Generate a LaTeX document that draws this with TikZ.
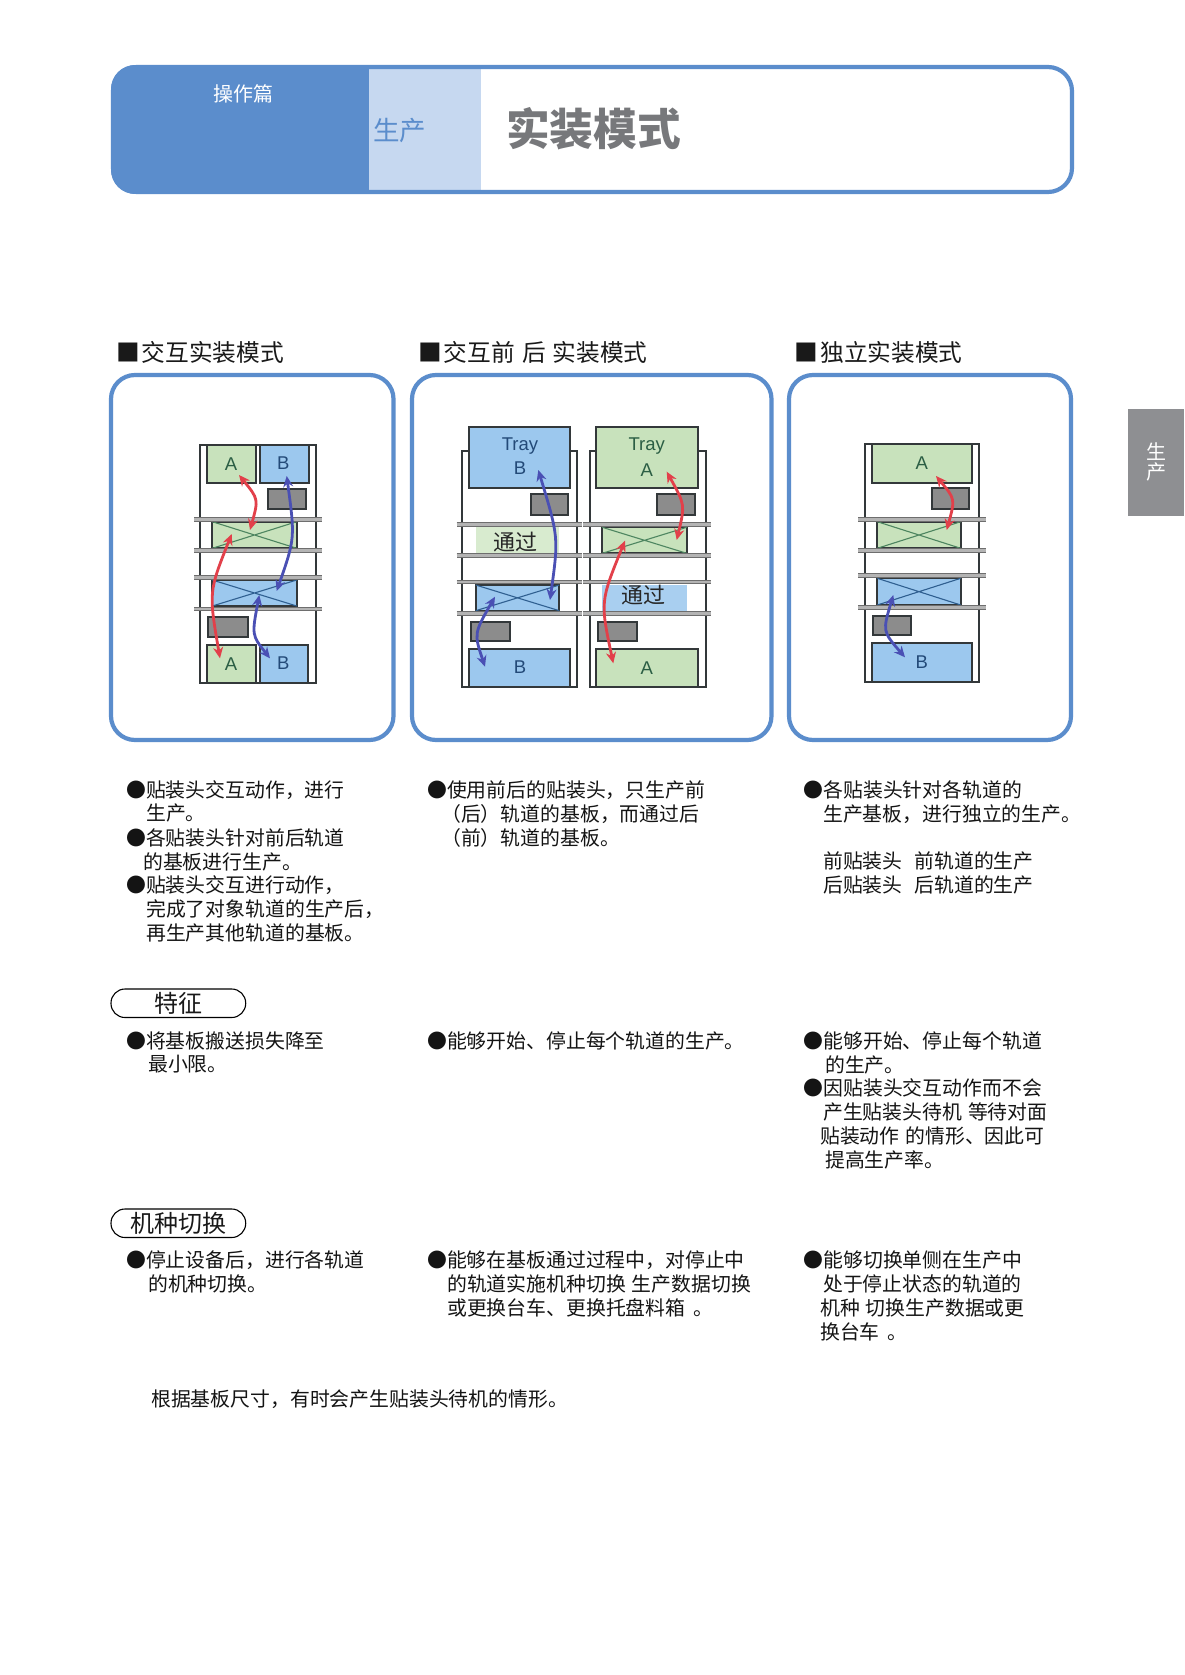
\documentclass[tikz,border=0pt]{standalone}
\usepackage{fontspec}
\setmainfont{Noto Sans CJK SC}
\newfontfamily\latinf{Liberation Sans}
\usetikzlibrary{arrows.meta,calc}
\definecolor{frameblue}{HTML}{5B8DCC}
\definecolor{lightcol}{HTML}{C6D8F0}
\definecolor{tabgray}{HTML}{8E8F92}
\definecolor{titlegray}{HTML}{77787B}
\definecolor{boardgreen}{HTML}{C8E2BC}
\definecolor{boardblue}{HTML}{9CC8EE}
\definecolor{palegreen}{HTML}{D8EBCF}
\definecolor{paleblue}{HTML}{A9CFF0}
\definecolor{headgray}{HTML}{8C8C8C}
\definecolor{railgray}{HTML}{B4B4B4}
\definecolor{railedge}{HTML}{6E6E6E}
\definecolor{darkline}{HTML}{33383A}
\definecolor{crossgreen}{HTML}{4D8560}
\definecolor{crossblue}{HTML}{2F5F90}
\definecolor{arrowred}{HTML}{E2404A}
\definecolor{arrowblue}{HTML}{4A50B4}
\definecolor{labelgreen}{HTML}{2B5E44}
\definecolor{labelblue}{HTML}{234A78}
\tikzset{
  panel/.style={draw=frameblue,line width=4.2pt,rounded corners=24pt},
  bodytext/.style={anchor=base west,inner sep=0pt,font=\fontsize{19.85}{24}\selectfont,text=black!92},
  headtext/.style={anchor=base west,inner sep=0pt,font=\fontsize{23.7}{28}\selectfont,text=black!90},
  pill/.style={draw=black,line width=1.1pt,rounded corners=14pt},
  pilltext/.style={inner sep=0pt,font=\fontsize{24}{28}\selectfont,text=black!90},
  post/.style={draw=darkline,line width=2.2pt},
  greenbox/.style={fill=boardgreen,draw=darkline,line width=1.9pt},
  bluebox/.style={fill=boardblue,draw=darkline,line width=1.9pt},
  headbox/.style={fill=headgray,draw=darkline,line width=1.9pt},
  rail/.style={draw=railedge,line width=0.9pt,double=railgray,double distance=2.8pt},
  greenx/.style={draw=crossgreen,line width=1.1pt},
  bluex/.style={draw=crossblue,line width=1.1pt},
  letterg/.style={inner sep=0pt,font=\latinf\fontsize{18.5}{20}\selectfont,text=labelgreen},
  letterb/.style={inner sep=0pt,font=\latinf\fontsize{18.5}{20}\selectfont,text=labelblue},
  passtext/.style={inner sep=0pt,font=\fontsize{22}{24}\selectfont,text=black!85},
  redarrow/.style={draw=arrowred,line width=2.8pt,{Stealth[length=11pt,width=10pt]}-{Stealth[length=11pt,width=10pt]}},
  bluearrow/.style={draw=arrowblue,line width=2.8pt,{Stealth[length=11pt,width=10pt]}-{Stealth[length=11pt,width=10pt]}},
}
% body line: name, x, vertical centre, text
\newcommand\tx[4]{\node[bodytext] (#1) at (#2,#3+7.2) {#4};}
\newcommand\hd[3]{\node[headtext] (#1) at (#2,361) {#3};}
% curved arrow through a middle point
\newcommand\bend[4]{\draw[#1] (#2) .. controls ($(#3)!-0.34!($(#2)!.5!(#4)$)$) .. (#4);}
% board with a cross
\newcommand\xboard[6]{\draw[#5] (#1,#2) rectangle (#3,#4);
  \draw[#6] (#1,#2) -- (#3,#4) (#1,#4) -- (#3,#2);}
\begin{document}
\begin{tikzpicture}[x=1pt,y=-1pt]
\useasboundingbox (0,0) rectangle (1184,1675);
\fill[white] (0,0) rectangle (1184,1675);

% ---- title band
\begin{scope}
  \clip[rounded corners=24pt] (111,65) rectangle (1074,194);
  \fill[frameblue] (111,65) rectangle (369,194);
  \fill[lightcol] (369,65) rectangle (481,194);
\end{scope}
\draw[panel] (113,67) rectangle (1072,192);
\node[inner sep=0pt,text=white,font=\fontsize{20}{24}\selectfont] (part) at (243.5,94) {操作篇};
\node[inner sep=0pt,anchor=west,text=frameblue,font=\fontsize{26.5}{28}\selectfont] (section) at (373,130.5) {生产};
\node[inner sep=0pt,anchor=west,text=titlegray,font=\bfseries\fontsize{43.7}{46}\selectfont] (title) at (506,129) {实装模式};

% ---- side tab
\fill[tabgray] (1128,409) rectangle (1184,516);
\node[inner sep=0pt,text=white,font=\fontsize{20}{22}\selectfont] (tab1) at (1156,452) {生};
\node[inner sep=0pt,text=white,font=\fontsize{20}{22}\selectfont] (tab2) at (1156,472) {产};

% ---- headings
\hd{h1}{116}{■\hspace{0.08em}交互实装模式}
\hd{h2}{418}{■\hspace{0.08em}交互前\hspace{0.3em}后\hspace{0.3em}实装模式}
\hd{h3}{794.5}{■\hspace{0.08em}独立实装模式}

% ---- panels
\draw[panel] (111,375) rectangle (393.5,740);
\draw[panel] (412,375) rectangle (771.5,740);
\draw[panel] (789,375) rectangle (1071,740);

% ---- diagram 1
\draw[post] (200,445) rectangle (315.7,683.3);
\draw[greenbox] (206.7,445) rectangle (256,483.3);
\draw[bluebox] (260,445) rectangle (309,483.3);
\draw[headbox] (268.3,489) rectangle (305.7,509);
\xboard{212.3}{521.7}{296.7}{548.3}{greenbox}{greenx}
\xboard{212.3}{580}{296.7}{606}{bluebox}{bluex}
\draw[headbox] (207.7,617) rectangle (247.7,637);
\draw[greenbox] (206.7,645) rectangle (256,683.3);
\draw[bluebox] (260,645) rectangle (308.3,683.3);
\draw[rail] (194,519.3) -- (321.7,519.3);
\draw[rail] (194,550.7) -- (321.7,550.7);
\draw[rail] (194,577.3) -- (321.7,577.3);
\draw[rail] (194,609) -- (321.7,609);
\node[letterg] (d1a) at (231,464) {A};
\node[letterb] (d1b) at (283.3,463) {B};
\node[letterg] (d1c) at (231,664.3) {A};
\node[letterb] (d1d) at (283.3,663.3) {B};
\bend{redarrow}{239,475}{255,500}{250,530}
\bend{redarrow}{231.7,534}{213,593}{220,658.3}
\bend{bluearrow}{286.7,476}{291.7,537}{276.7,591}
\bend{bluearrow}{259.3,595}{255,633}{270,658.3}

% ---- diagram 2, left unit
\draw[post] (469.3,450.7) -- (462.3,450.7) -- (462.3,686.7) -- (577.3,686.7) -- (577.3,450.7) -- (570,450.7);
\draw[bluebox] (469.3,426.7) rectangle (570,488.3);
\draw[headbox] (531,494.3) rectangle (568.3,515);
\fill[palegreen] (475.7,527.3) rectangle (559.3,553.3);
\xboard{475.7}{585}{559.3}{610.7}{bluebox}{bluex}
\draw[headbox] (470.7,622.3) rectangle (510,641);
\draw[bluebox] (469.3,649.3) rectangle (570,686.7);
% right unit
\draw[post] (596,450.7) -- (590,450.7) -- (590,686.7) -- (705.7,686.7) -- (705.7,450.7) -- (698.3,450.7);
\draw[greenbox] (596,426.7) rectangle (698.3,488.3);
\draw[headbox] (657.3,494.3) rectangle (695,515);
\xboard{602.3}{527.3}{686.7}{553.3}{greenbox}{greenx}
\fill[paleblue] (602.3,585) rectangle (686.7,610.7);
\draw[headbox] (598.3,622.3) rectangle (636.7,641);
\draw[greenbox] (596,649.3) rectangle (698.3,686.7);
\foreach \yy in {524.3,555.3,582,613.3}{
  \draw[rail] (456.7,\yy) -- (581.7,\yy);
  \draw[rail] (583.3,\yy) -- (710.7,\yy);
}
\node[letterb] (d2tb) at (520,446) {Tray};
\node[letterb] (d2b) at (520,468) {B};
\node[letterg] (d2ta) at (646.7,446) {Tray};
\node[letterg] (d2a) at (646.7,470) {A};
\node[letterb] (d2c) at (520,667.3) {B};
\node[letterg] (d2d) at (646.7,668) {A};
\node[passtext] (d2p1) at (515,541.7) {通过};
\node[passtext] (d2p2) at (643.3,595) {通过};
\bend{bluearrow}{538.3,470}{555,536.7}{550,600}
\bend{bluearrow}{495,596.7}{478,633}{485,666.7}
\bend{redarrow}{666.7,471.7}{681.7,505}{676.7,540}
\bend{redarrow}{625,540.7}{605,601.7}{613.3,663.3}

% ---- diagram 3
\draw[post] (865,444.3) rectangle (979,682.3);
\draw[greenbox] (871.7,444.3) rectangle (972.3,483.3);
\draw[headbox] (932.3,488.3) rectangle (969,509);
\xboard{877.3}{521.7}{960.7}{548.3}{greenbox}{greenx}
\xboard{877.3}{578.3}{960.7}{605}{bluebox}{bluex}
\draw[headbox] (872.7,615.7) rectangle (910.7,635);
\draw[bluebox] (871.7,643.3) rectangle (972.3,682.3);
\draw[rail] (858.3,519.3) -- (985.7,519.3);
\draw[rail] (858.3,550.7) -- (985.7,550.7);
\draw[rail] (858.3,575.7) -- (985.7,575.7);
\draw[rail] (858.3,607.3) -- (985.7,607.3);
\node[letterg] (d3a) at (921.7,463.3) {A};
\node[letterb] (d3b) at (921.7,661.7) {B};
\bend{redarrow}{936,476}{951.7,500}{946.7,530}
\bend{bluearrow}{893.3,595}{886.7,630}{905,657.3}

% ---- description, column 1
\tx{a1}{126}{790}{●贴装头交互动作，进行}
\tx{a2}{146}{813.5}{生产。}
\tx{a3}{126}{838}{●各贴装头针对前后轨道}
\tx{a4}{143}{862}{的基板进行生产。}
\tx{a5}{126}{885.5}{●贴装头交互进行动作，}
\tx{a6}{146}{909.5}{完成了对象轨道的生产后，}
\tx{a7}{146}{933.5}{再生产其他轨道的基板。}
% column 2
\tx{b1}{427}{790}{●使用前后的贴装头，只生产前}
\tx{b2}{441}{814}{（后）轨道的基板，而通过后}
\tx{b3}{441}{838}{（前）轨道的基板。}
% column 3
\tx{c1}{803.5}{790}{●各贴装头针对各轨道的}
\tx{c2}{823}{814}{生产基板，进行独立的生产。}
\tx{c3}{823}{861.5}{前贴装头\hspace{0.6em}前轨道的生产}
\tx{c4}{823}{885.5}{后贴装头\hspace{0.6em}后轨道的生产}

% ---- pills
\draw[pill] (111,989) rectangle (245.7,1017.5);
\node[pilltext] (pa) at (178,1003) {特征};
\draw[pill] (111,1209) rectangle (245.7,1237.5);
\node[pilltext] (pb) at (178.5,1223) {机种切换};

% ---- features
\tx{d1}{126}{1041}{●将基板搬送损失降至}
\tx{d2}{148}{1064.5}{最小限。}
\tx{e1}{427}{1041}{●能够开始、停止每个轨道的生产。}
\tx{f1}{803.5}{1041}{●能够开始、停止每个轨道}
\tx{f2}{825}{1065}{的生产。}
\tx{f3}{803.5}{1088}{●因贴装头交互动作而不会}
\tx{f4}{823}{1112}{产生贴装头待机\hspace{0.3em}等待对面}
\tx{f5}{820}{1136}{贴装动作\hspace{0.3em}的情形、因此可}
\tx{f6}{825}{1160}{提高生产率。}

% ---- changeover
\tx{g1}{126}{1260}{●停止设备后，进行各轨道}
\tx{g2}{148}{1284}{的机种切换。}
\tx{i1}{427}{1260}{●能够在基板通过过程中，对停止中}
\tx{i2}{447}{1284}{的轨道实施机种切换\hspace{0.3em}生产数据切换}
\tx{i3}{447}{1308}{或更换台车、更换托盘料箱\hspace{0.4em}。}
\tx{j1}{803.5}{1260}{●能够切换单侧在生产中}
\tx{j2}{823}{1284}{处于停止状态的轨道的}
\tx{j3}{820}{1308}{机种\hspace{0.3em}切换生产数据或更}
\tx{j4}{820}{1332}{换台车\hspace{0.4em}。}
\tx{k1}{151}{1399}{根据基板尺寸，有时会产生贴装头待机的情形。}
\end{tikzpicture}
\end{document}
